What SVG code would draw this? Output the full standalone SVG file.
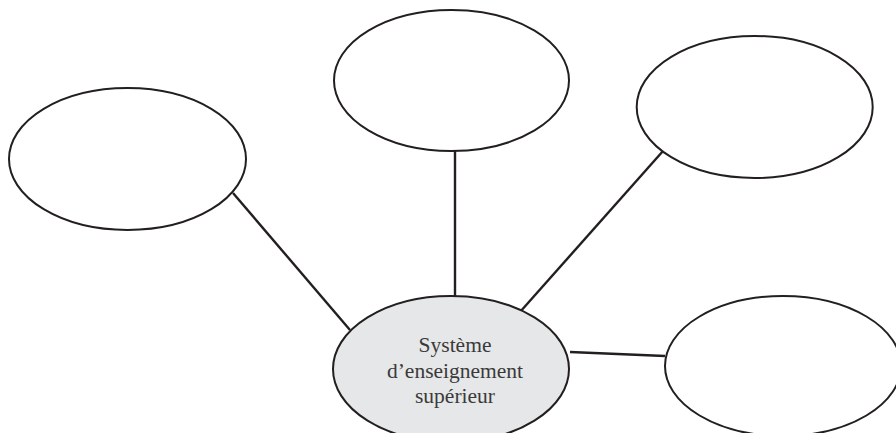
<svg xmlns="http://www.w3.org/2000/svg" width="896" height="433" viewBox="0 0 896 433">
<style>
.n{fill:#fff;stroke:#231f20;stroke-width:2}
.c{fill:#e6e7e8;stroke:#231f20;stroke-width:2}
.l{stroke:#231f20;stroke-width:2.4;fill:none}
.t{font-family:"Liberation Serif",serif;font-size:21.5px;fill:#3a3a3a;text-anchor:middle}
</style>
<rect width="896" height="433" fill="#fff"/>
<g id="connectors">
<line class="l" x1="233" y1="193" x2="350" y2="330"/>
<line class="l" x1="455" y1="151" x2="455" y2="296"/>
<line class="l" x1="663" y1="151" x2="520" y2="312"/>
<line class="l" x1="570" y1="352" x2="665" y2="356"/>
</g>
<g id="node-left"><ellipse class="n" cx="127.5" cy="159" rx="118.5" ry="71"/></g>
<g id="node-top"><ellipse class="n" cx="451.5" cy="80.5" rx="117.5" ry="70.5"/></g>
<g id="node-topright"><ellipse class="n" cx="754.7" cy="107" rx="118" ry="71"/></g>
<g id="node-right"><ellipse class="n" cx="783" cy="366" rx="118" ry="70"/></g>
<g id="node-center">
<ellipse class="c" cx="451" cy="369" rx="118" ry="73"/>
<text class="t" x="455" y="352">Système</text>
<text class="t" x="455" y="377.5">d’enseignement</text>
<text class="t" x="455" y="403">supérieur</text>
</g>
</svg>
